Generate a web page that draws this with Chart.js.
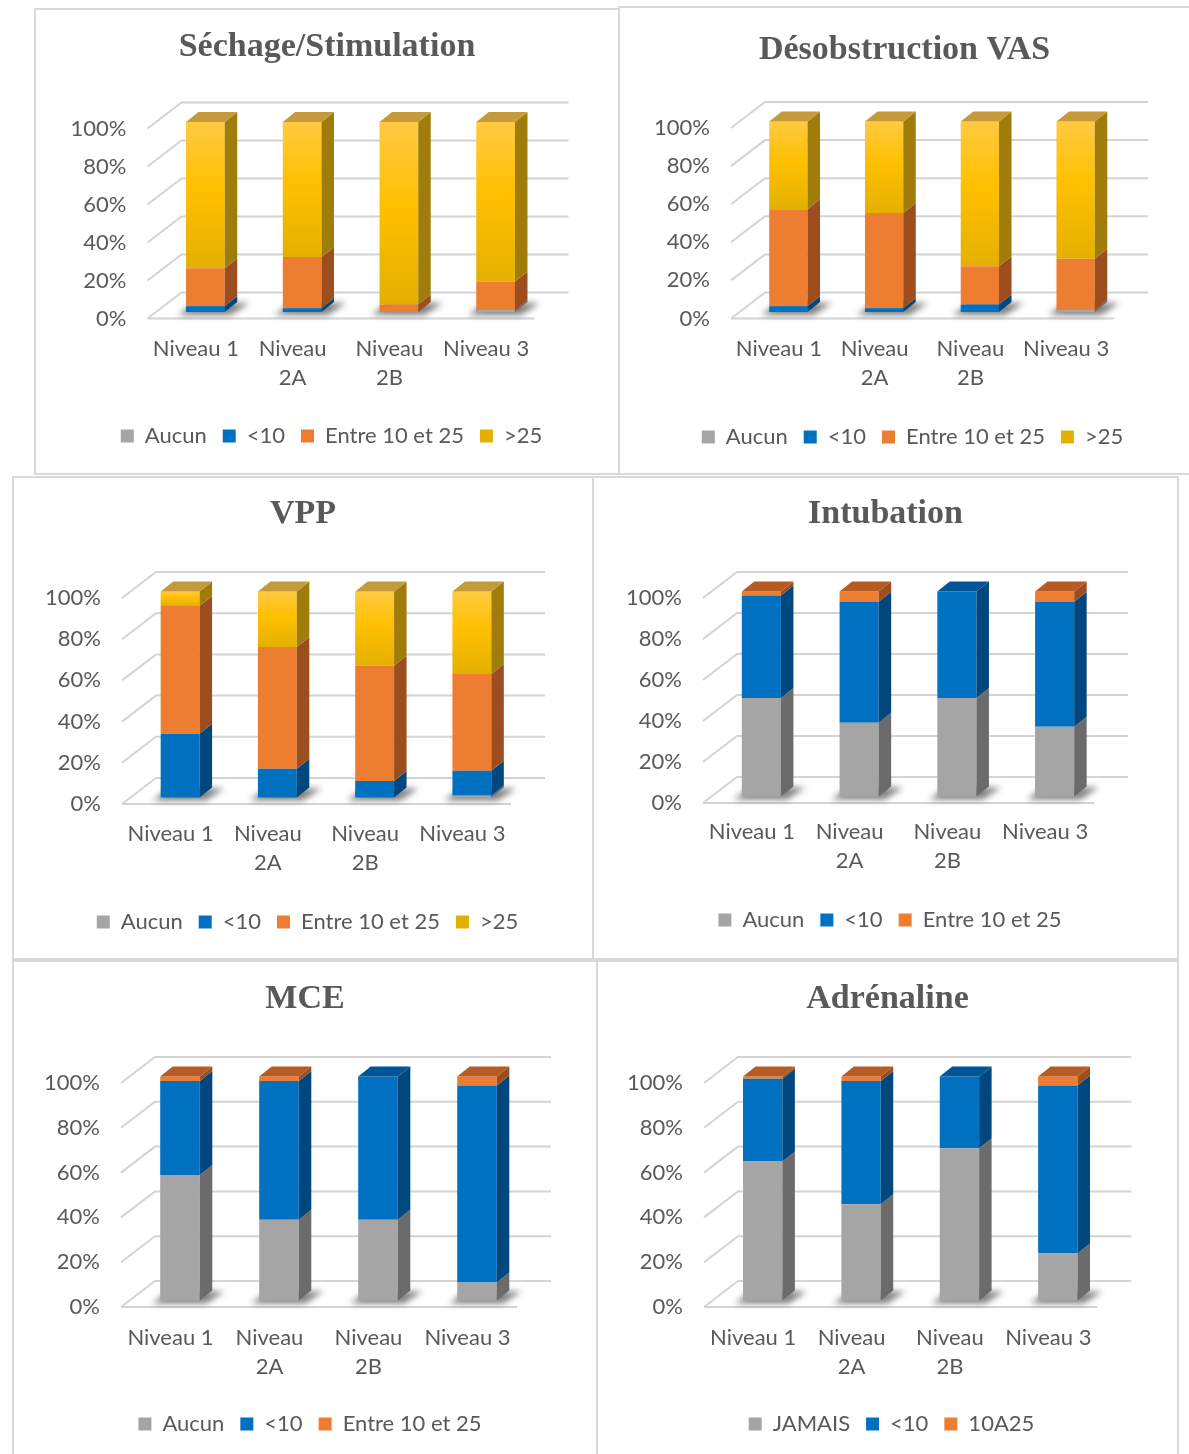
<!DOCTYPE html>
<html>
<head>
<meta charset="utf-8">
<script src="https://cdn.jsdelivr.net/npm/chart.js@4.4.1/dist/chart.umd.min.js"></script>
<style>
  body { margin: 0; background: #fff; width: 1189px; height: 1454px; overflow: hidden; position: relative; }
  .panel { position: absolute; box-sizing: border-box; border: 2px solid #d9d9d9; background: #fff; }
  .panel canvas { position: absolute; left: -2px; top: -2px; }
</style>
</head>
<body>
<script>
// categories (wrapped like in the original)
const categories = [['Niveau 1'], ['Niveau', '2A'], ['Niveau', '2B'], ['Niveau 3']];
const yTickValues = [0, 20, 40, 60, 80, 100];

// legend names
const legendSoins = ['Aucun', '<10', 'Entre 10 et 25', '>25'];
const legendGestes = ['Aucun', '<10', 'Entre 10 et 25'];
const legendAdrenaline = ['JAMAIS', '<10', '10A25'];

// values in %
const sechageAucun = [0, 0, 0, 1];
const sechageMoins10 = [3, 2, 0, 0];
const sechageEntre = [20, 27, 4, 15];
const sechagePlus25 = [77, 71, 96, 84];

const desobAucun = [0, 0, 0, 1];
const desobMoins10 = [3, 2, 4, 0];
const desobEntre = [51, 50, 20, 27];
const desobPlus25 = [46, 48, 76, 72];

const vppAucun = [0, 0, 0, 1];
const vppMoins10 = [31, 14, 8, 12];
const vppEntre = [62, 59, 56, 47];
const vppPlus25 = [7, 27, 36, 40];

const intubAucun = [48, 36, 48, 34];
const intubMoins10 = [50, 59, 52, 61];
const intubEntre = [2, 5, 0, 5];

const mceAucun = [56, 36, 36, 8];
const mceMoins10 = [42, 62, 64, 88];
const mceEntre = [2, 2, 0, 4];

const adreJamais = [62, 43, 68, 21];
const adreMoins10 = [37, 55, 32, 75];
const adre10a25 = [1, 2, 0, 4];

// styles
const TEXT = '#595959';
const GRID = '#d4d4d4';
const SANS = 'Lato, "Open Sans", sans-serif';
const TITLE_SIZE = 34;
const LABEL_SIZE = 22;
const X_LH = 1.32;
const LEG_PAD = 16;

const FRONT = { aucun: '#a5a5a5', moins10: '#0070c0', entre: '#ed7d31', plus25: '#ffc000' };
const SIDE = { aucun: '#6b6b6b', moins10: '#00477d', entre: '#9c4e1e', plus25: '#a07d0a' };
const TOP = { aucun: '#8d8d8d', moins10: '#005596', entre: '#b55b23', plus25: '#c49a3b' };

function yellowFill(c) {
  if (c.type !== 'data') return '#ffc414';
  const chart = c.chart, ys = chart.scales.y;
  if (!ys) return FRONT.plus25;
  let start = 0;
  for (let k = 0; k < c.datasetIndex; k++) start += chart.data.datasets[k].data[c.dataIndex];
  const y0 = ys.getPixelForValue(start + c.raw), y1 = ys.getPixelForValue(start);
  if (!isFinite(y0) || !isFinite(y1) || y0 === y1) return FRONT.plus25;
  const g = chart.ctx.createLinearGradient(0, y0, 0, y1);
  g.addColorStop(0, '#ffca42');
  g.addColorStop(0.45, '#ffc000');
  g.addColorStop(1, '#e4b000');
  return g;
}

// fake excel 3d: walls, floor, shadows, side and top faces
const fake3d = {
  id: 'fake3d',
  afterLayout(chart, args, o) {
    if (chart.legend && o.legendShift) {
      chart.legend.left += o.legendShift;
      chart.legend.right += o.legendShift;
    }
  },
  beforeDatasetsDraw(chart, args, o) {
    const ctx = chart.ctx, a = chart.chartArea, ys = chart.scales.y;
    ctx.save();
    ctx.strokeStyle = GRID;
    ctx.lineWidth = 2;
    ys.ticks.forEach(t => {
      const py = ys.getPixelForValue(t.value);
      ctx.beginPath();
      ctx.moveTo(a.left, py);
      ctx.lineTo(a.left + o.wall.dx, py - o.wall.dy);
      ctx.lineTo(a.right + o.wall.dx, py - o.wall.dy);
      ctx.stroke();
    });
    ctx.beginPath();
    ctx.moveTo(a.left, a.bottom);
    ctx.lineTo(a.right, a.bottom);
    ctx.stroke();
    ctx.restore();

    // bars sit a bit inside the floor
    ctx.save();
    ctx.translate(o.front.dx, -o.front.dy);
    const b = ys.getPixelForValue(0);
    const dx = o.depth.dx, dy = o.depth.dy;
    ctx.save();
    ctx.filter = 'blur(3px)';
    ctx.fillStyle = 'rgba(0,0,0,0.5)';
    chart.getDatasetMeta(0).data.forEach(bar => {
      const xl = bar.x - bar.width / 2, xr = bar.x + bar.width / 2;
      ctx.beginPath();
      ctx.moveTo(xl - 8, b + 3);
      ctx.lineTo(xr + 6, b + 3);
      ctx.lineTo(xr + dx + 12, b - dy + 1);
      ctx.lineTo(xl + dx - 4, b - dy + 1);
      ctx.closePath();
      ctx.fill();
    });
    ctx.restore();
  },
  afterDatasetsDraw(chart, args, o) {
    const ctx = chart.ctx;
    const dx = o.depth.dx, dy = o.depth.dy;
    const sets = chart.data.datasets;
    sets.forEach((ds, di) => {
      chart.getDatasetMeta(di).data.forEach((bar, i) => {
        if (!ds.data[i]) return;
        const xl = bar.x - bar.width / 2, xr = bar.x + bar.width / 2;
        const yt = bar.y, yb = bar.base;
        ctx.fillStyle = SIDE[ds.face];
        ctx.beginPath();
        ctx.moveTo(xr, yt);
        ctx.lineTo(xr + dx, yt - dy);
        ctx.lineTo(xr + dx, yb - dy);
        ctx.lineTo(xr, yb);
        ctx.closePath();
        ctx.fill();
        const above = sets.slice(di + 1).some(s => s.data[i] > 0);
        if (!above) {
          ctx.fillStyle = TOP[ds.face];
          ctx.beginPath();
          ctx.moveTo(xl, yt);
          ctx.lineTo(xl + dx, yt - dy);
          ctx.lineTo(xr + dx, yt - dy);
          ctx.lineTo(xr, yt);
          ctx.closePath();
          ctx.fill();
        }
      });
    });
    ctx.restore();
  }
};

const keys4 = ['aucun', 'moins10', 'entre', 'plus25'];
const keys3 = ['aucun', 'moins10', 'entre'];

// page positions of each panel
const panels = [
  { title: 'Séchage/Stimulation', series: [sechageAucun, sechageMoins10, sechageEntre, sechagePlus25], names: legendSoins, keys: keys4,
    box: [34, 8, 620, 475], area: [147.5, 534.5, 128.5, 318.5], titleY: 47, legendY: 436, legendX: 331.5, labelY: 349 },
  { title: 'Désobstruction VAS', series: [desobAucun, desobMoins10, desobEntre, desobPlus25], names: legendSoins, keys: keys4,
    box: [618, 6, 1191, 475], area: [731, 1114, 128, 318.5], titleY: 50, legendY: 437, legendX: 912.5, labelY: 349 },
  { title: 'VPP', series: [vppAucun, vppMoins10, vppEntre, vppPlus25], names: legendSoins, keys: keys4,
    box: [12, 476, 594, 960], area: [122, 511, 598, 804], titleY: 514, legendY: 922, legendX: 307.5, labelY: 834 },
  { title: 'Intubation', series: [intubAucun, intubMoins10, intubEntre], names: legendGestes, keys: keys3,
    box: [592, 476, 1179, 960], area: [703, 1094, 598, 803], titleY: 514, legendY: 920, legendX: 890, labelY: 832 },
  { title: 'MCE', series: [mceAucun, mceMoins10, mceEntre], names: legendGestes, keys: keys3,
    box: [12, 960, 598, 1456], area: [121, 517, 1083, 1307], titleY: 999, legendY: 1424, legendX: 310, labelY: 1338 },
  { title: 'Adrénaline', series: [adreJamais, adreMoins10, adre10a25], names: legendAdrenaline, keys: keys3,
    box: [596, 960, 1179, 1456], area: [704, 1097.5, 1083, 1307], titleY: 999, legendY: 1424, legendX: 891.5, labelY: 1338 }
];

panels.forEach(p => {
  const [bx0, by0, bx1, by1] = p.box;
  const W = bx1 - bx0, H = by1 - by0;
  const div = document.createElement('div');
  div.className = 'panel';
  div.style.left = bx0 + 'px';
  div.style.top = by0 + 'px';
  div.style.width = W + 'px';
  div.style.height = H + 'px';
  const cv = document.createElement('canvas');
  cv.width = W;
  cv.height = H;
  div.appendChild(cv);
  document.body.appendChild(div);

  const L = p.area[0] - bx0, R = p.area[1] - bx0, T = p.area[2] - by0, B = p.area[3] - by0;
  const tlh = TITLE_SIZE * 1.2;
  const tPadTop = p.titleY - by0 - tlh / 2;
  const tPadBottom = T - tPadTop - tlh;
  const legendTop = p.legendY - by0 - LEG_PAD - LABEL_SIZE / 2;
  const legendH = LABEL_SIZE + LEG_PAD + 10;
  const padBottom = H - legendTop - legendH;
  const xAxisH = legendTop - B;
  const xTickPad = p.labelY - by0 - B - LABEL_SIZE * X_LH / 2;

  const datasets = p.series.map((vals, i) => ({
    label: p.names[i],
    data: vals,
    face: p.keys[i],
    backgroundColor: p.keys[i] === 'plus25' ? yellowFill : FRONT[p.keys[i]],
    borderWidth: 0,
    barPercentage: 0.4,
    categoryPercentage: 1,
    clip: false
  }));

  new Chart(cv, {
    type: 'bar',
    data: { labels: categories, datasets: datasets },
    options: {
      responsive: false,
      animation: false,
      layout: { padding: { left: 0, right: 0, top: 0, bottom: padBottom } },
      scales: {
        x: {
          stacked: true,
          grid: { display: false, drawTicks: false },
          border: { display: false },
          ticks: { color: TEXT, font: { family: SANS, size: LABEL_SIZE, lineHeight: X_LH }, padding: xTickPad, maxRotation: 0, autoSkip: false },
          afterFit: s => { s.height = xAxisH; }
        },
        y: {
          stacked: true,
          min: 0,
          max: 100,
          grid: { display: false, drawTicks: false },
          border: { display: false },
          afterBuildTicks: s => { s.ticks = yTickValues.map(v => ({ value: v })); },
          ticks: { color: TEXT, font: { family: SANS, size: LABEL_SIZE }, padding: 21, callback: v => v + '%' },
          afterFit: s => { s.width = L; }
        },
        depth: {
          type: 'linear',
          position: 'right',
          grid: { display: false, drawTicks: false },
          border: { display: false },
          ticks: { display: false },
          afterFit: s => { s.width = W - R; }
        }
      },
      plugins: {
        title: {
          display: true,
          text: p.title,
          color: TEXT,
          font: { family: '"Liberation Serif", serif', size: TITLE_SIZE, weight: 'bold', lineHeight: 1.2 },
          padding: { top: tPadTop, bottom: tPadBottom }
        },
        legend: {
          position: 'bottom',
          labels: { color: TEXT, font: { family: SANS, size: LABEL_SIZE }, boxWidth: 13, boxHeight: 13, padding: LEG_PAD }
        },
        tooltip: { enabled: false },
        fake3d: {
          wall: { dx: 34, dy: 26 },
          front: { dx: 9.5, dy: 6.5 },
          depth: { dx: 12.5, dy: 10 },
          legendShift: p.legendX - (bx0 + bx1) / 2
        }
      }
    },
    plugins: [fake3d]
  });
});
</script>
</body>
</html>
